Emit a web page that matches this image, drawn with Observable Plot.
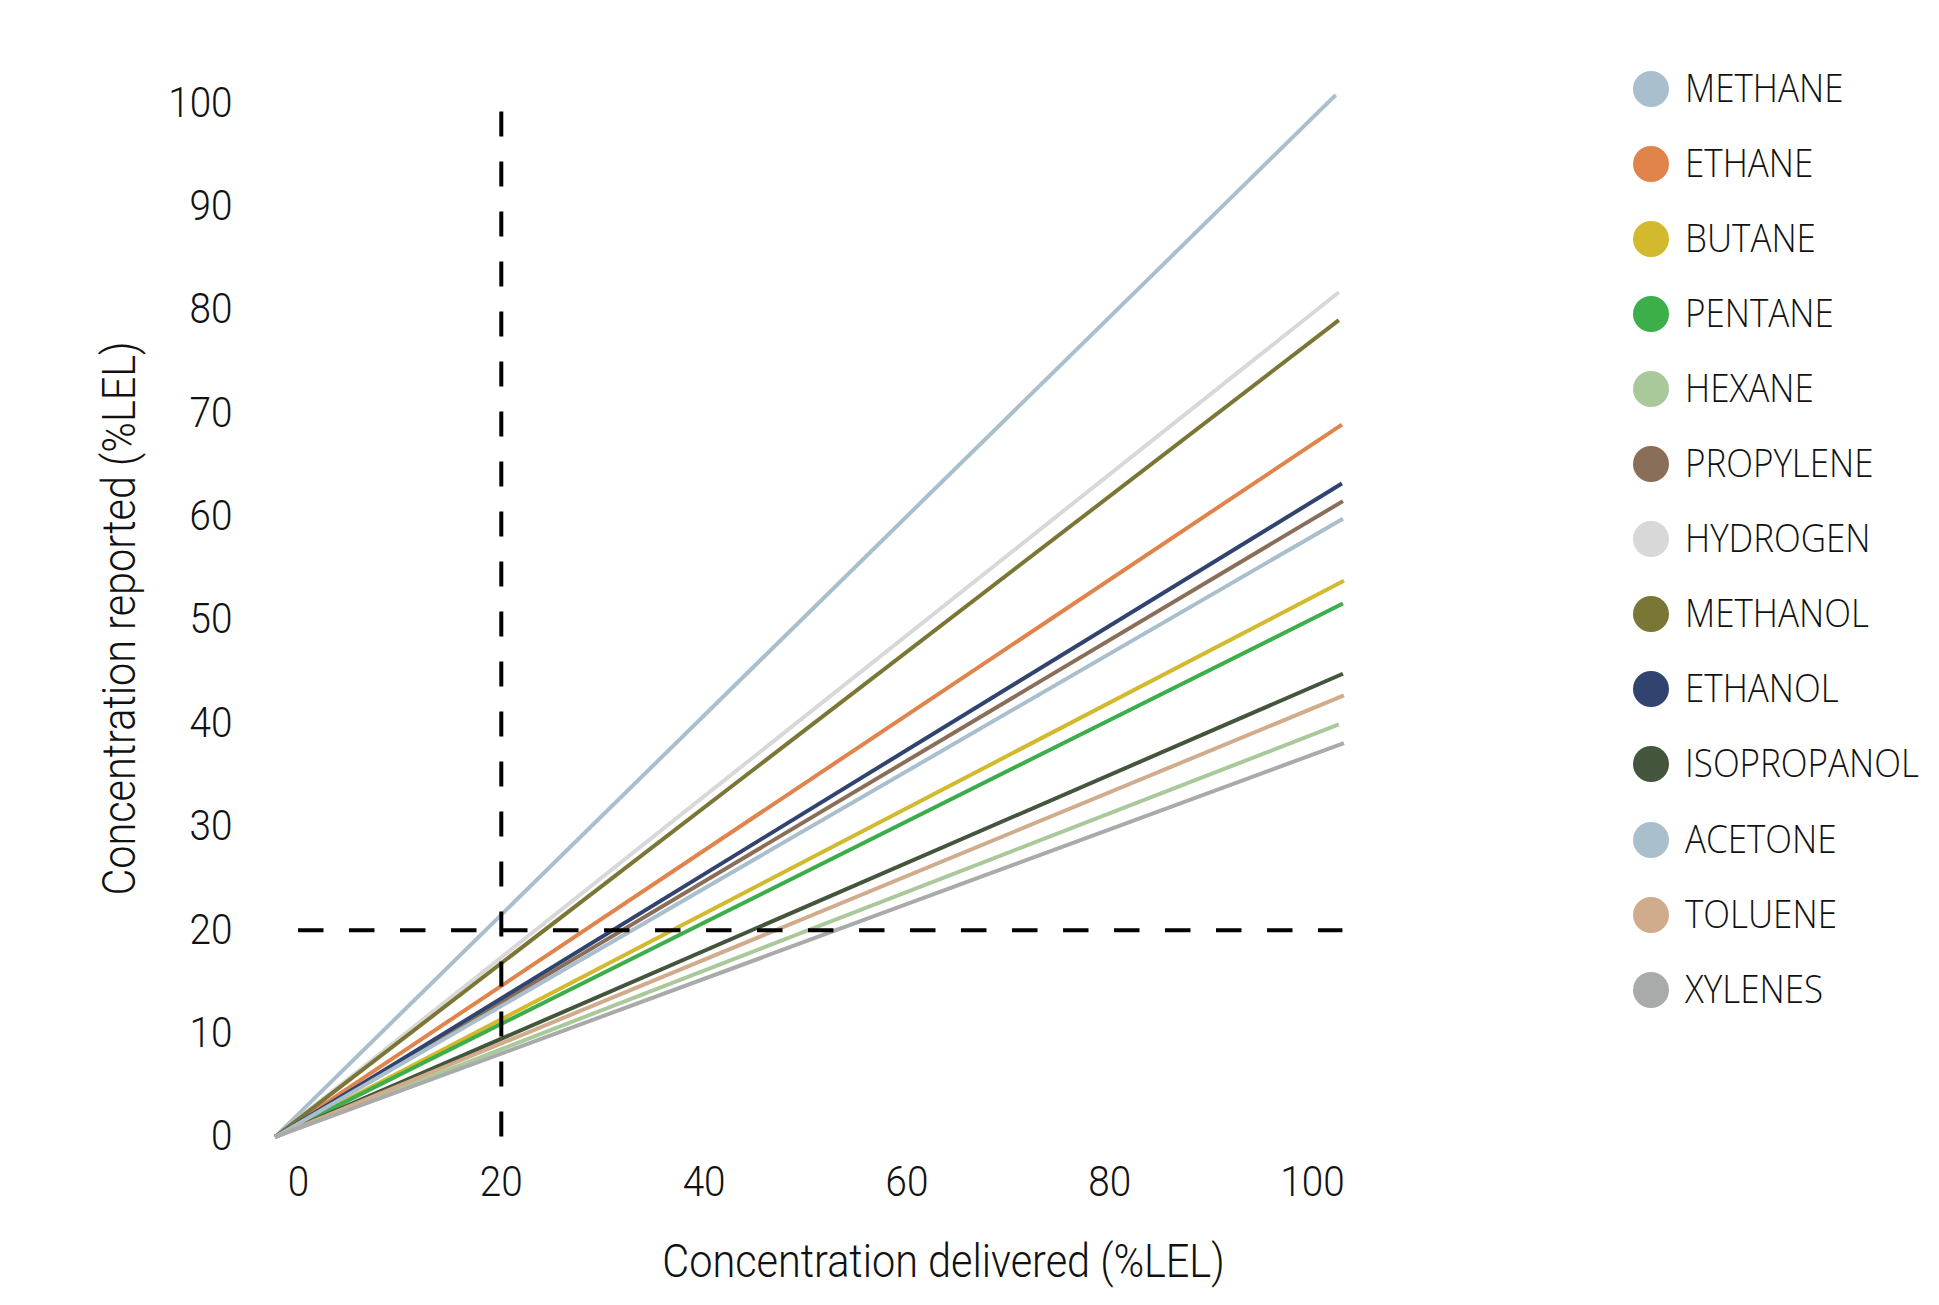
<!DOCTYPE html>
<html>
<head>
<meta charset="utf-8">
<script src="https://cdn.jsdelivr.net/npm/d3@7"></script>
<script src="https://cdn.jsdelivr.net/npm/@observablehq/plot@0.6"></script>
<style>
  html, body { margin: 0; padding: 0; background: #fff; }
  #wrap { position: relative; width: 1939px; height: 1305px; overflow: hidden; }
  #legend { position: absolute; left: 1633px; top: 0; font-family: "Open Sans", sans-serif; font-weight: 300; color: #111; }
  .item { position: absolute; left: 0; height: 36px; width: 320px; }
  .dot { position: absolute; left: 0; top: 0; width: 36px; height: 36px; border-radius: 50%; }
  .lab { position: absolute; left: 52px; top: 50%; transform: translateY(-54%) scaleX(0.92); transform-origin: left center; font-size: 38px; line-height: 1; white-space: nowrap; }
</style>
</head>
<body>
<div id="wrap"><div id="chart"></div><div id="legend"></div></div>
<script>
// ---- data ----
const gases = ["METHANE", "ETHANE", "BUTANE", "PENTANE", "HEXANE", "PROPYLENE", "HYDROGEN",
               "METHANOL", "ETHANOL", "ISOPROPANOL", "ACETONE", "TOLUENE", "XYLENES"];
const colors = ["#a9bfcd", "#e0844c", "#d3b92e", "#3daf4a", "#a9c99b", "#8b6e58", "#d8d8d8",
                "#7a7736", "#30446f", "#43553c", "#aabfcd", "#d1ac8c", "#a9abab"];
const deliveredStart = [-2.3, -2.3, -2.3, -2.3, -2.3, -2.3, -2.3, -2.3, -2.3, -2.3, -2.3, -2.3, -2.3];
const reportedStart  = [0, 0, 0, 0, 0, 0, 0, 0, 0, 0, 0, 0, 0];
const deliveredEnd   = [102.3, 102.9, 103.1, 103.0, 102.6, 103.0, 102.6, 102.6, 102.9, 103.0, 103.0, 103.1, 103.1];
const reportedEnd    = [100.8, 68.9, 53.8, 51.6, 39.9, 61.5, 81.7, 79.0, 63.2, 44.8, 59.8, 42.7, 38.1];
const xTicks = [0, 20, 40, 60, 80, 100];
const yTicks = [0, 10, 20, 30, 40, 50, 60, 70, 80, 90, 100];
const threshold = 20;
const xTitle = "Concentration delivered (%LEL)";
const yTitle = "Concentration reported (%LEL)";

const rows = [];
gases.forEach((g, i) => {
  rows.push({gas: g, x: deliveredStart[i], y: reportedStart[i]});
  rows.push({gas: g, x: deliveredEnd[i], y: reportedEnd[i]});
});

const chart = Plot.plot({
  width: 1939,
  height: 1305,
  marginLeft: 298,
  marginRight: 627,
  marginTop: 102.6,
  marginBottom: 168.6,
  style: {fontFamily: "Roboto", fontWeight: 300, fontSize: "42px", color: "#111", background: "#fff"},
  x: {domain: [0, 100], ticks: xTicks, tickSize: 0, tickPadding: 29, label: null},
  y: {domain: [0, 100], ticks: yTicks, tickSize: 0, tickPadding: 66, label: null},
  color: {domain: gases, range: colors},
  marks: [
    Plot.line(rows, {x: "x", y: "y", z: "gas", stroke: "gas", strokeWidth: 4, strokeLinecap: "butt"}),
    Plot.ruleY([threshold], {x1: 0, x2: 103, stroke: "#000", strokeWidth: 4, strokeDasharray: "25.5,25.5"}),
    Plot.ruleX([threshold], {y1: 0, y2: 100, stroke: "#000", strokeWidth: 4, strokeDasharray: "25,25"}),
    Plot.text([xTitle], {frameAnchor: "bottom", textAnchor: "middle", lineAnchor: "middle", dx: 138, dy: 125, fontSize: 46, fill: "#111", className: "ttl"}),
    Plot.text([yTitle], {frameAnchor: "left", textAnchor: "middle", lineAnchor: "middle", rotate: -90, dx: -178, dy: -1.5, fontSize: 46, fill: "#111", className: "ttl"})
  ]
});
document.getElementById("chart").appendChild(chart);

// condensed look for the labels
chart.querySelectorAll("text").forEach(t => {
  const isTitle = t.closest(".ttl") !== null;
  const k = isTitle ? 0.90 : 0.92;
  const len = t.getComputedTextLength();
  if (len > 0) {
    t.setAttribute("textLength", (len * k).toFixed(1));
    t.setAttribute("lengthAdjust", "spacingAndGlyphs");
  }
});

// legend
const legend = document.getElementById("legend");
gases.forEach((g, i) => {
  const item = document.createElement("div");
  item.className = "item";
  item.style.top = (70.5 + i * 75.1) + "px";
  const dot = document.createElement("div");
  dot.className = "dot";
  dot.style.background = colors[i];
  const lab = document.createElement("span");
  lab.className = "lab";
  lab.textContent = g;
  item.appendChild(dot);
  item.appendChild(lab);
  legend.appendChild(item);
});
</script>
</body>
</html>
